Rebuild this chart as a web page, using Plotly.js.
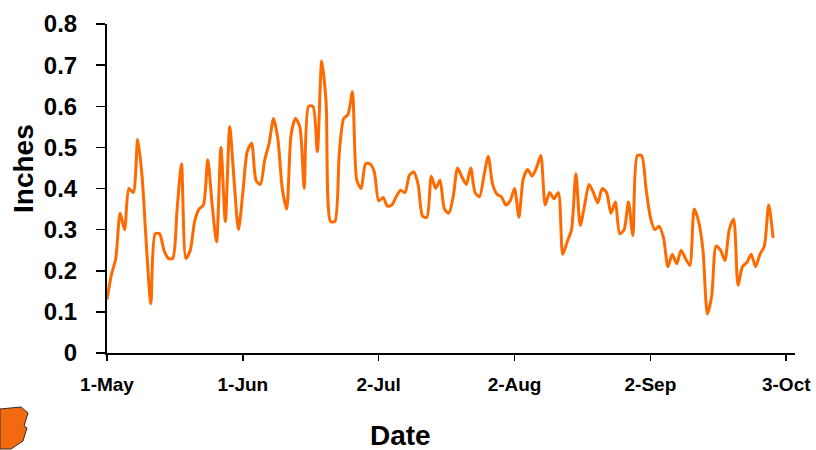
<!DOCTYPE html>
<html>
<head>
<meta charset="utf-8">
<script src="https://cdn.plot.ly/plotly-3.0.1.min.js"></script>
<style>html,body{margin:0;padding:0;background:#fff;}#chart{width:816px;height:450px;}</style>
</head>
<body>
<div id="chart"></div>
<script>
// Daily values starting 1-May, one per day through 30-Sep
const startDate = '2009-05-01';
const inches = [
  0.13, 0.19, 0.23, 0.34, 0.30, 0.40, 0.39, 0.52, 0.43, 0.26,
  0.12, 0.29, 0.29, 0.25, 0.23, 0.23, 0.35, 0.46, 0.23, 0.25,
  0.32, 0.35, 0.36, 0.47, 0.36, 0.27, 0.50, 0.32, 0.55, 0.42,
  0.30, 0.39, 0.49, 0.51, 0.42, 0.41, 0.47, 0.51, 0.57, 0.52,
  0.40, 0.35, 0.53, 0.57, 0.55, 0.40, 0.60, 0.60, 0.49, 0.71,
  0.61, 0.32, 0.32, 0.485, 0.57, 0.58, 0.635, 0.42, 0.40, 0.46,
  0.46, 0.44, 0.37, 0.378, 0.357, 0.36, 0.38, 0.396, 0.39, 0.432,
  0.44, 0.41, 0.333, 0.33, 0.43, 0.40, 0.42, 0.35, 0.34, 0.38,
  0.45, 0.428, 0.41, 0.45, 0.39, 0.38, 0.43, 0.478, 0.41, 0.386,
  0.38, 0.36, 0.37, 0.40, 0.33, 0.424, 0.446, 0.43, 0.45, 0.48,
  0.36, 0.39, 0.375, 0.39, 0.24, 0.27, 0.30, 0.436, 0.31, 0.36,
  0.41, 0.39, 0.365, 0.40, 0.39, 0.34, 0.367, 0.29, 0.30, 0.367,
  0.286, 0.48, 0.48, 0.40, 0.33, 0.30, 0.308, 0.28, 0.21, 0.24,
  0.217, 0.25, 0.23, 0.213, 0.35, 0.32, 0.25, 0.095, 0.14, 0.26,
  0.25, 0.225, 0.30, 0.325, 0.165, 0.21, 0.22, 0.24, 0.21, 0.24,
  0.26, 0.36, 0.28
];
const tickDates = ['2009-05-01', '2009-06-01', '2009-07-02', '2009-08-02', '2009-09-02', '2009-10-03'];
const tickLabels = ['1-May', '1-Jun', '2-Jul', '2-Aug', '2-Sep', '3-Oct'];
const yTicks = [0, 0.1, 0.2, 0.3, 0.4, 0.5, 0.6, 0.7, 0.8];
const yTickLabels = ['0', '0.1', '0.2', '0.3', '0.4', '0.5', '0.6', '0.7', '0.8'];
const xTitle = 'Date';
const yTitle = 'Inches';

function addDays(iso, n) {
  const d = new Date(iso + 'T00:00:00Z');
  d.setUTCDate(d.getUTCDate() + n);
  return d.toISOString().slice(0, 10);
}
const dates = inches.map((_, i) => addDays(startDate, i));

// plot-area geometry (pixels)
const L = 107, R = 21, T = 24, B = 97, W = 816, H = 450;
const pw = W - L - R, ph = H - T - B;
const px = x => (x - L) / pw;
const py = y => (H - B - y) / ph;

const font = 'Arial, "Liberation Sans", sans-serif';

const logoPts = [[0,409],[21,407],[28,413],[24,426],[27,428],[23,441],[11,449],[0,449]];
const logoPath = 'M ' + logoPts.map(p => px(p[0]) + ',' + py(p[1])).join(' L ') + ' Z';

const trace = {
  x: dates,
  y: inches,
  type: 'scatter',
  mode: 'lines',
  line: {color: '#FF6A00', width: 3, shape: 'spline', smoothing: 0.7},
  hoverinfo: 'x+y'
};

const layout = {
  width: W, height: H,
  margin: {l: L, r: R, t: T, b: B, pad: 0},
  paper_bgcolor: '#ffffff',
  plot_bgcolor: '#ffffff',
  showlegend: false,
  font: {family: font, color: '#000'},
  xaxis: {
    type: 'date',
    range: ['2009-05-01', '2009-10-05'],
    tickvals: tickDates,
    ticktext: tickLabels,
    tickfont: {family: font, size: 19, color: '#000', weight: 'bold'},
    ticks: 'outside', ticklen: 6, tickwidth: 1.5, tickcolor: '#000',
    showline: true, linecolor: '#000', linewidth: 2,
    showgrid: false, zeroline: false,
    ticklabelstandoff: 7
  },
  yaxis: {
    range: [0, 0.8],
    tickvals: yTicks,
    ticktext: yTickLabels,
    tickfont: {family: font, size: 24, color: '#000', weight: 'bold'},
    ticks: 'outside', ticklen: 9, tickwidth: 1.5, tickcolor: '#000',
    showline: true, linecolor: '#000', linewidth: 2,
    showgrid: false, zeroline: false,
    ticklabelstandoff: 14
  },
  annotations: [
    {text: '<b>' + xTitle + '</b>', xref: 'paper', yref: 'paper', x: px(400), y: py(435),
     xanchor: 'center', yanchor: 'middle', showarrow: false,
     font: {family: font, size: 28, color: '#000'}},
    {text: '<b>' + yTitle + '</b>', xref: 'paper', yref: 'paper', x: px(23), y: py(169),
     xanchor: 'center', yanchor: 'middle', showarrow: false, textangle: -90,
     font: {family: font, size: 28, color: '#000'}}
  ],
  shapes: [
    {type: 'path', xref: 'paper', yref: 'paper', path: logoPath,
     fillcolor: '#F26A10', line: {color: '#3a2a1a', width: 1}, layer: 'above'}
  ]
};

Plotly.newPlot('chart', [trace], layout, {displayModeBar: false, staticPlot: true});
</script>
</body>
</html>
